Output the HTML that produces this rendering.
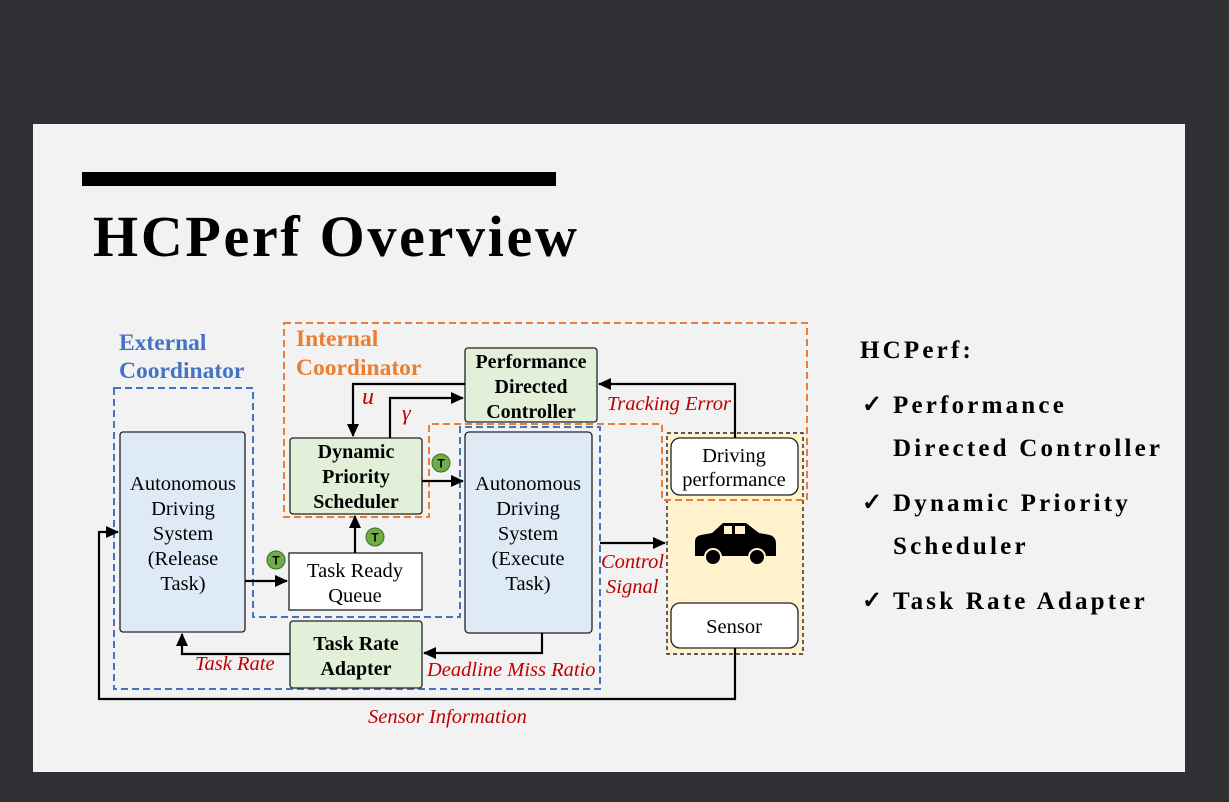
<!DOCTYPE html>
<html><head><meta charset="utf-8"><style>
html,body{margin:0;padding:0;background:#2e3033;width:1229px;height:802px;overflow:hidden}
svg{display:block}
svg text{font-family:"Liberation Serif","Times New Roman",serif}
</style></head><body>
<svg width="1229" height="802" viewBox="0 0 1229 802" xmlns="http://www.w3.org/2000/svg">
<defs>
<marker id="a" markerWidth="14" markerHeight="14" refX="12" refY="6" orient="auto" markerUnits="userSpaceOnUse"><path d="M0,0 L13,6 L0,12 z" fill="#000"/></marker>
</defs>
<rect x="33" y="124" width="1152" height="648" fill="#f2f2f2"/>
<rect x="82" y="172" width="474" height="14" fill="#000"/>
<text x="93" y="256" font-size="58" font-weight="bold" letter-spacing="2.7">HCPerf Overview</text>

<!-- right text -->
<g font-size="25" font-weight="bold" letter-spacing="3.2">
<text x="860" y="358">HCPerf:</text>
<text x="862" y="412" font-size="24" letter-spacing="0">✓</text><text x="893" y="413">Performance</text>
<text x="893" y="456">Directed Controller</text>
<text x="862" y="510" font-size="24" letter-spacing="0">✓</text><text x="893" y="511">Dynamic Priority</text>
<text x="893" y="554">Scheduler</text>
<text x="862" y="608" font-size="24" letter-spacing="0">✓</text><text x="893" y="609">Task Rate Adapter</text>
</g>

<!-- coordinator labels -->
<g font-size="23.5" font-weight="bold">
<text x="119" y="350" fill="#4472c4">External</text>
<text x="119" y="378" fill="#4472c4">Coordinator</text>
<text x="296" y="346" fill="#ed7d31">Internal</text>
<text x="296" y="375" fill="#ed7d31">Coordinator</text>
</g>

<!-- yellow box -->
<rect x="667" y="433" width="136" height="221" fill="#fff2cc" stroke="#000" stroke-width="1.2" stroke-dasharray="4,3"/>

<!-- dashed boxes -->
<path d="M114,388 H253 V617 H460 V427 H600 V689 H114 Z" fill="none" stroke="#4472c4" stroke-width="2" stroke-dasharray="7,4"/>
<path d="M284,323 H807 V500 H662 V424 H429 V517 H284 Z" fill="none" stroke="#ed7d31" stroke-width="2" stroke-dasharray="7,4"/>

<!-- nodes -->
<g stroke="#222" stroke-width="1.3">
<rect x="120" y="432" width="125" height="200" rx="3" fill="#deebf7"/>
<rect x="465" y="432" width="127" height="201" rx="4" fill="#deebf7"/>
<rect x="290" y="438" width="132" height="76" rx="3" fill="#e2f0d9"/>
<rect x="465" y="348" width="132" height="74" rx="3" fill="#e2f0d9"/>
<rect x="289" y="553" width="133" height="57" fill="#fff"/>
<rect x="290" y="621" width="132" height="67" rx="3" fill="#e2f0d9"/>
<rect x="671" y="438" width="127" height="57" rx="9" fill="#fff"/>
<rect x="671" y="603" width="127" height="45" rx="9" fill="#fff"/>
</g>

<g font-size="20.5" text-anchor="middle">
<text x="183" y="490">Autonomous</text>
<text x="183" y="515">Driving</text>
<text x="183" y="540">System</text>
<text x="183" y="565">(Release</text>
<text x="183" y="590">Task)</text>
<text x="528" y="490">Autonomous</text>
<text x="528" y="515">Driving</text>
<text x="528" y="540">System</text>
<text x="528" y="565">(Execute</text>
<text x="528" y="590">Task)</text>
<text x="355" y="577">Task Ready</text>
<text x="355" y="602">Queue</text>
<text x="734" y="462">Driving</text>
<text x="734" y="486">performance</text>
<text x="734" y="633">Sensor</text>
</g>
<g font-size="20" text-anchor="middle" font-weight="bold">
<text x="356" y="458">Dynamic</text>
<text x="356" y="483">Priority</text>
<text x="356" y="508">Scheduler</text>
<text x="531" y="368">Performance</text>
<text x="531" y="393">Directed</text>
<text x="531" y="418">Controller</text>
<text x="356" y="650">Task Rate</text>
<text x="356" y="675">Adapter</text>
</g>

<!-- car -->
<g fill="#000">
<path d="M695,556 V542 Q695,536 701,535 L712,533 L723,523 H746 L759,533 L770,535 Q776,537 776,544 V556 Z"/>
<rect x="724" y="526" width="8" height="8" fill="#fff2cc"/>
<rect x="735" y="526" width="10" height="8" fill="#fff2cc"/>
<circle cx="713" cy="557" r="8" stroke="#fff2cc" stroke-width="2"/>
<circle cx="757" cy="557" r="8" stroke="#fff2cc" stroke-width="2"/>
</g>

<!-- connectors -->
<g stroke="#000" stroke-width="2.2" fill="none">
<path d="M245,581 H287" marker-end="url(#a)"/>
<path d="M355,553 V516" marker-end="url(#a)"/>
<path d="M422,481 H463" marker-end="url(#a)"/>
<path d="M465,384 H353 V436" marker-end="url(#a)"/>
<path d="M390,438 V398 H463" marker-end="url(#a)"/>
<path d="M735,438 V384 H599" marker-end="url(#a)"/>
<path d="M600,543 H665" marker-end="url(#a)"/>
<path d="M542,633 V653 H424" marker-end="url(#a)"/>
<path d="M290,654 H182 V634" marker-end="url(#a)"/>
<path d="M735,648 V699 H99 V532 H118" marker-end="url(#a)"/>
</g>

<!-- T circles -->
<g font-size="12" font-weight="bold" text-anchor="middle">
<circle cx="276" cy="560" r="9" fill="#70ad47" stroke="#3a6e2a"/><text x="276" y="564.5" style="font-family:'Liberation Sans',sans-serif">T</text>
<circle cx="375" cy="537" r="9" fill="#70ad47" stroke="#3a6e2a"/><text x="375" y="541.5" style="font-family:'Liberation Sans',sans-serif">T</text>
<circle cx="441" cy="463" r="9" fill="#70ad47" stroke="#3a6e2a"/><text x="441" y="467.5" style="font-family:'Liberation Sans',sans-serif">T</text>
</g>

<!-- red labels -->
<g fill="#c00000" font-style="italic" font-size="20.5">
<text x="195" y="670">Task Rate</text>
<text x="427" y="676">Deadline Miss Ratio</text>
<text x="368" y="723">Sensor Information</text>
<text x="601" y="568">Control</text>
<text x="606" y="593">Signal</text>
<text x="607" y="410">Tracking Error</text>
<text x="362" y="404" font-size="24">u</text>
<text x="402" y="420" font-size="22">γ</text>
</g>
</svg>
</body></html>
